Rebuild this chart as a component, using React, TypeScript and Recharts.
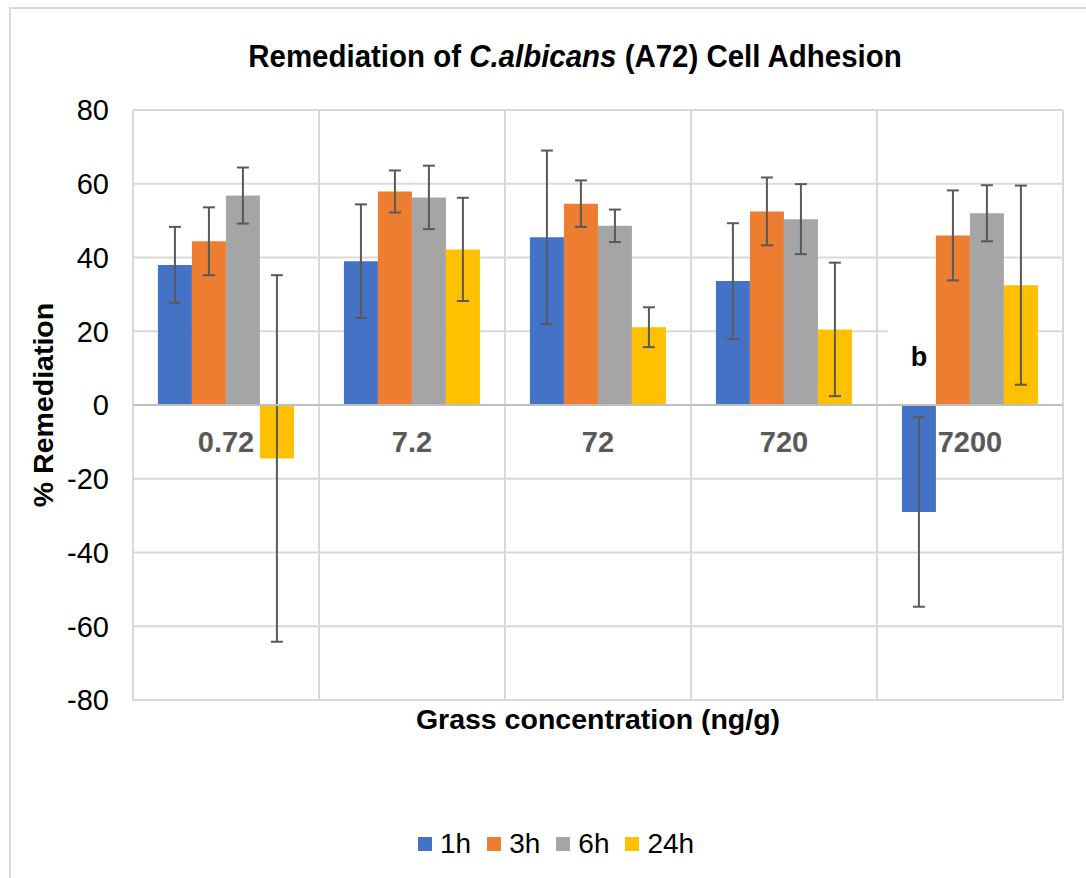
import React from 'react'
import { BarChart, Bar, XAxis, YAxis, CartesianGrid, ErrorBar, ReferenceLine, Legend, LabelList } from 'recharts'

// grass concentration (ng/g)
const categories = ['0.72', '7.2', '72', '720', '7200']

// % remediation per exposure time, with error (+/-)
const h1 = [38.0, 39.0, 45.5, 33.6, -29.0]
const h1Err = [10.3, 15.4, 23.5, 15.7, 25.7]
const h3 = [44.4, 57.9, 54.6, 52.5, 46.0]
const h3Err = [9.2, 5.7, 6.3, 9.2, 12.2]
const h6 = [56.8, 56.3, 48.6, 50.4, 52.0]
const h6Err = [7.6, 8.6, 4.4, 9.5, 7.6]
const h24 = [-14.5, 42.2, 21.1, 20.5, 32.5]
const h24Err = [49.7, 14.0, 5.4, 18.1, 27.0]

// significance letters on the 1h bars
const notes = ['', '', '', '', 'b']

const yTicks = [-80, -60, -40, -20, 0, 20, 40, 60, 80]

const series = [
  { key: 'h1', err: 'h1Err', name: '1h', color: '#4472C4' },
  { key: 'h3', err: 'h3Err', name: '3h', color: '#ED7D31' },
  { key: 'h6', err: 'h6Err', name: '6h', color: '#A5A5A5' },
  { key: 'h24', err: 'h24Err', name: '24h', color: '#FFC000' },
]

const data = categories.map((conc, i) => ({
  conc,
  h1: h1[i], h1Err: h1Err[i],
  h3: h3[i], h3Err: h3Err[i],
  h6: h6[i], h6Err: h6Err[i],
  h24: h24[i], h24Err: h24Err[i],
}))

const FONT = '"Liberation Sans", Arial, sans-serif'

// category names sit just under the zero line, like Excel's "next to axis"
const CategoryLabels = (props: any) => {
  const vb = props.viewBox || {}
  const step = vb.width / categories.length
  return (
    <g>
      {categories.map((c, i) => (
        <text
          key={c}
          x={vb.x + step * (i + 0.5)}
          y={vb.y + 37}
          textAnchor="middle"
          dominantBaseline="central"
          fontFamily={FONT}
          fontWeight="bold"
          fontSize={29}
          fill="#595959"
        >
          {c}
        </text>
      ))}
    </g>
  )
}

const NoteLabel = (props: any) => {
  const note = notes[props.index]
  if (!note) return null
  const vb = props.viewBox || props
  const x = Number(vb.x)
  const y = Number(vb.y)
  const w = Number(vb.width)
  const h = Number(vb.height)
  const value = h1[props.index]
  const zero = value < 0 ? (h < 0 ? y + h : y) : y + h
  const cx = x + w / 2
  return (
    <g>
      <rect x={x - 14} y={zero - 80} width={w + 14} height={72} fill="#fff" />
      <text
        x={cx}
        y={zero - 48}
        textAnchor="middle"
        dominantBaseline="central"
        fontFamily={FONT}
        fontWeight="bold"
        fontSize={27}
        fill="#000"
      >
        {note}
      </text>
    </g>
  )
}

const LegendContent = () => (
  <div style={{ display: 'flex', alignItems: 'center', paddingLeft: 418, fontFamily: FONT, fontSize: 28, color: '#000' }}>
    {series.map((s) => (
      <div key={s.key} style={{ display: 'flex', alignItems: 'center', marginRight: 16 }}>
        <span style={{ width: 14, height: 14, background: s.color, display: 'inline-block', marginRight: 8 }} />
        <span>{s.name}</span>
      </div>
    ))}
  </div>
)

const YLabel = (props: any) => {
  const vb = props.viewBox || {}
  const cx = vb.x + 43
  const cy = vb.y + vb.height / 2
  return (
    <text
      x={cx}
      y={cy}
      transform={`rotate(-90, ${cx}, ${cy})`}
      textAnchor="middle"
      dominantBaseline="central"
      fontFamily={FONT}
      fontWeight="bold"
      fontSize={28.5}
      fill="#000"
    >
      % Remediation
    </text>
  )
}

export default function App() {
  return (
    <div style={{ position: 'absolute', left: 0, top: 0, width: 1086, height: 878, background: '#fff', overflow: 'hidden' }}>
      <div style={{ position: 'absolute', left: 9, top: 7, width: 1200, height: 1000, border: '2px solid #d9d9d9' }} />
      <div
        style={{
          position: 'absolute',
          left: 575,
          top: 57,
          transform: 'translate(-50%, -50%) scaleX(0.95)',
          whiteSpace: 'nowrap',
          fontFamily: FONT,
          fontWeight: 'bold',
          fontSize: 31,
          color: '#000',
        }}
      >
        Remediation of <i>C.albicans</i> (A72) Cell Adhesion
      </div>
      <div style={{ position: 'absolute', left: 0, top: 0 }}>
        <BarChart
          width={1086}
          height={878}
          data={data}
          margin={{ top: 110, right: 23, left: 0, bottom: 18 }}
          barCategoryGap="13.4%"
          barGap={0}
        >
          <CartesianGrid
            stroke="#d9d9d9"
            strokeWidth={2}
            verticalCoordinatesGenerator={({ offset }: any) =>
              categories.map((_, i) => offset.left + (i * offset.width) / categories.length).concat([offset.left + offset.width])
            }
          />
          <XAxis
            dataKey="conc"
            tick={false}
            tickLine={false}
            axisLine={false}
            height={128}
            label={{
              value: 'Grass concentration (ng/g)',
              position: 'insideTop',
              offset: 9,
              fontFamily: FONT,
              fontWeight: 'bold',
              fontSize: 28.5,
              fill: '#000',
            }}
          />
          <YAxis
            width={133}
            domain={[-80, 80]}
            ticks={yTicks}
            allowDataOverflow
            tickLine={false}
            axisLine={false}
            tickSize={0}
            tickMargin={24}
            tick={{ fontFamily: FONT, fontSize: 29, fill: '#000' }}
            label={<YLabel />}
          />
          <Legend verticalAlign="bottom" content={<LegendContent />} />
          {series.map((s) => (
            <Bar key={s.key} dataKey={s.key} name={s.name} fill={s.color} isAnimationActive={false}>
              <ErrorBar dataKey={s.err} width={6} stroke="#595959" strokeWidth={2} isAnimationActive={false} />
              {s.key === 'h1' ? <LabelList dataKey={s.key} content={<NoteLabel />} /> : null}
            </Bar>
          ))}
          <ReferenceLine y={0} stroke="#bfbfbf" strokeWidth={2} label={<CategoryLabels />} />
        </BarChart>
      </div>
    </div>
  )
}
